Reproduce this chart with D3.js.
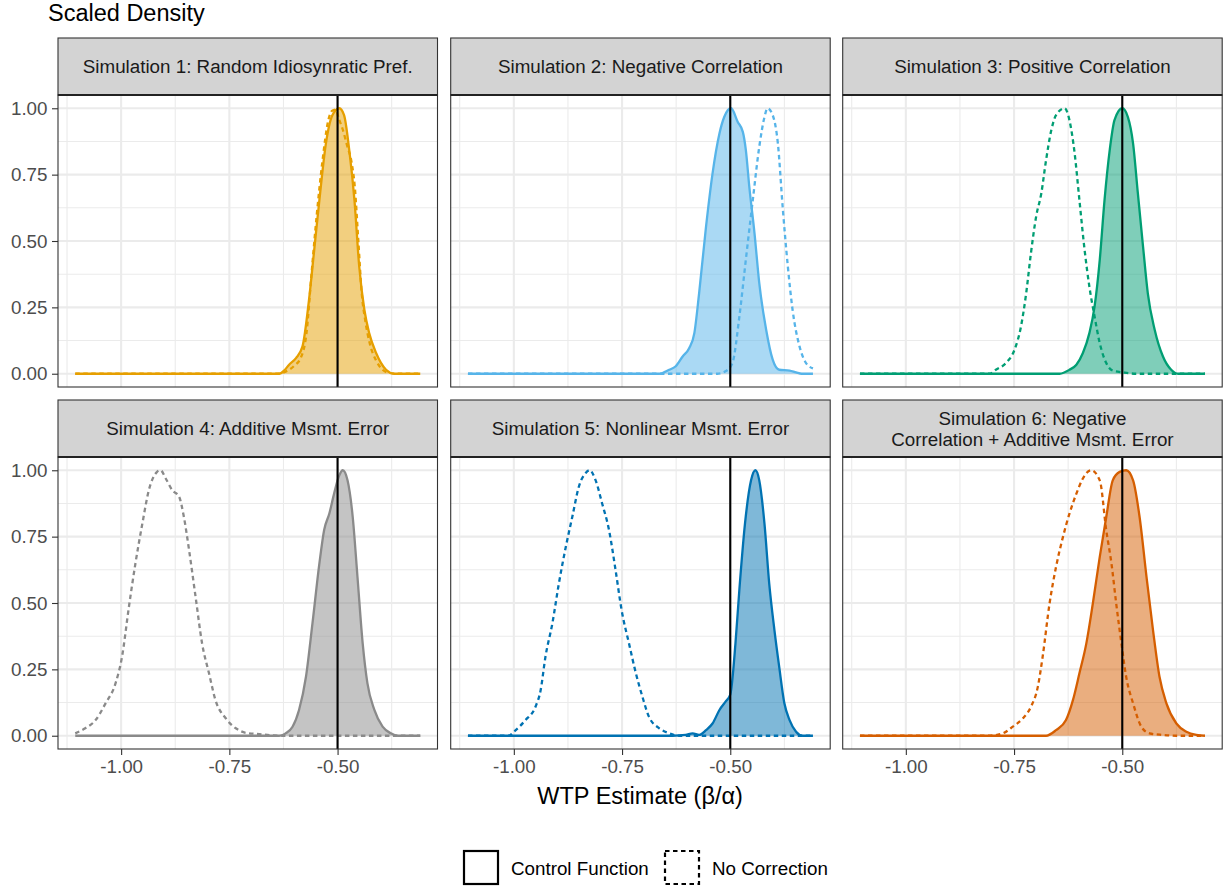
<!DOCTYPE html>
<html><head><meta charset="utf-8">
<script src="https://cdn.jsdelivr.net/npm/d3@7"></script>
<style>
body{margin:0;background:#fff}
svg{display:block}
text{font-family:"Liberation Sans",Arial,Helvetica,sans-serif}
</style>
</head><body>
<svg id="chart" width="1224" height="890"></svg>
<script>
// ---------------- DATA ----------------
const panelTitles = [
  ["Simulation 1: Random Idiosynratic Pref."],
  ["Simulation 2: Negative Correlation"],
  ["Simulation 3: Positive Correlation"],
  ["Simulation 4: Additive Msmt. Error"],
  ["Simulation 5: Nonlinear Msmt. Error"],
  ["Simulation 6: Negative", "Correlation + Additive Msmt. Error"]
];
const simColors = ["#E69F00", "#56B4E9", "#009E73", "#8a8a8a", "#0072B2", "#D55E00"];
const seriesNames = ["Control Function", "No Correction"];
const xTicks = [-1.00, -0.75, -0.50];
const xMinorTicks = [-1.125, -0.875, -0.625, -0.375];
const yTicks = [0, 0.25, 0.50, 0.75, 1.00];
const yMinorTicks = [0.125, 0.375, 0.625, 0.875];
const xDataRange = [-1.106, -0.309];
const trueWTP = -0.5;
const yAxisTitle = "Scaled Density";
const xAxisTitle = "WTP Estimate (β/α)";

// scaled density curves: [wtp, density]
const sim1Control = [[-1.106,0],[-0.635,0],[-0.623,0.013],[-0.612,0.034],[-0.596,0.059],[-0.581,0.103],[-0.566,0.278],[-0.554,0.466],[-0.542,0.654],[-0.527,0.867],[-0.512,0.974],[-0.496,1.0],[-0.485,0.974],[-0.473,0.842],[-0.461,0.654],[-0.45,0.404],[-0.438,0.24],[-0.427,0.153],[-0.411,0.078],[-0.388,0.015],[-0.369,0],[-0.309,0]];
const sim1NoCorr = [[-1.106,0],[-0.64,0],[-0.62,0.008],[-0.60,0.03],[-0.585,0.06],[-0.572,0.15],[-0.56,0.38],[-0.548,0.6],[-0.535,0.8],[-0.522,0.95],[-0.513,0.99],[-0.505,0.995],[-0.497,0.96],[-0.488,0.92],[-0.478,0.86],[-0.468,0.8],[-0.46,0.7],[-0.452,0.5],[-0.444,0.3],[-0.436,0.2],[-0.425,0.11],[-0.411,0.05],[-0.396,0.015],[-0.38,0.003],[-0.365,0],[-0.309,0]];
const sim2Control = [[-1.106,0],[-0.664,0],[-0.641,0.015],[-0.626,0.028],[-0.61,0.065],[-0.595,0.096],[-0.583,0.153],[-0.572,0.303],[-0.556,0.554],[-0.541,0.754],[-0.525,0.905],[-0.514,0.967],[-0.498,1.0],[-0.483,0.949],[-0.471,0.911],[-0.464,0.842],[-0.456,0.704],[-0.444,0.529],[-0.433,0.341],[-0.417,0.165],[-0.402,0.053],[-0.387,0.015],[-0.363,0.012],[-0.348,0.005],[-0.335,0],[-0.309,0]];
const sim2NoCorr = [[-1.106,0],[-0.53,0],[-0.51,0.01],[-0.495,0.04],[-0.479,0.215],[-0.464,0.43],[-0.448,0.654],[-0.433,0.855],[-0.421,0.967],[-0.414,1.0],[-0.402,0.974],[-0.39,0.867],[-0.379,0.629],[-0.367,0.404],[-0.356,0.24],[-0.34,0.103],[-0.325,0.04],[-0.309,0.02]];
const sim3Control = [[-1.106,0],[-0.645,0],[-0.622,0.015],[-0.606,0.034],[-0.591,0.078],[-0.576,0.153],[-0.564,0.253],[-0.552,0.429],[-0.541,0.654],[-0.529,0.842],[-0.518,0.955],[-0.5,1.0],[-0.487,0.967],[-0.475,0.867],[-0.464,0.68],[-0.452,0.479],[-0.441,0.303],[-0.425,0.165],[-0.406,0.065],[-0.387,0.015],[-0.371,0],[-0.309,0]];
const sim3NoCorr = [[-1.106,0],[-0.807,0],[-0.792,0.015],[-0.769,0.04],[-0.749,0.09],[-0.734,0.178],[-0.722,0.303],[-0.711,0.454],[-0.699,0.592],[-0.687,0.68],[-0.676,0.805],[-0.664,0.917],[-0.653,0.974],[-0.633,1.0],[-0.622,0.955],[-0.61,0.83],[-0.599,0.654],[-0.587,0.466],[-0.576,0.328],[-0.564,0.216],[-0.552,0.115],[-0.537,0.04],[-0.522,0.012],[-0.498,0.005],[-0.468,0],[-0.309,0]];
const sim4Control = [[-1.106,0],[-0.635,0],[-0.62,0.009],[-0.604,0.034],[-0.589,0.097],[-0.573,0.222],[-0.558,0.423],[-0.542,0.649],[-0.531,0.775],[-0.519,0.837],[-0.508,0.912],[-0.496,0.981],[-0.488,1.0],[-0.477,0.962],[-0.465,0.824],[-0.454,0.598],[-0.442,0.348],[-0.431,0.197],[-0.415,0.097],[-0.396,0.034],[-0.377,0.009],[-0.361,0],[-0.309,0]];
const sim4NoCorr = [[-1.106,0.009],[-1.083,0.028],[-1.059,0.059],[-1.036,0.122],[-1.013,0.197],[-0.998,0.297],[-0.982,0.486],[-0.967,0.649],[-0.951,0.799],[-0.936,0.925],[-0.917,0.994],[-0.909,1.0],[-0.897,0.969],[-0.882,0.925],[-0.866,0.9],[-0.855,0.824],[-0.843,0.699],[-0.828,0.523],[-0.813,0.348],[-0.797,0.235],[-0.782,0.134],[-0.758,0.065],[-0.735,0.028],[-0.712,0.011],[-0.681,0.006],[-0.65,0.001],[-0.627,0],[-0.309,0]];
const sim5Control = [[-1.106,0],[-0.633,0],[-0.603,0.003],[-0.587,0.009],[-0.572,0.003],[-0.556,0.021],[-0.541,0.046],[-0.525,0.097],[-0.51,0.13],[-0.5,0.155],[-0.488,0.348],[-0.479,0.55],[-0.466,0.799],[-0.452,0.962],[-0.442,1.0],[-0.433,0.962],[-0.421,0.799],[-0.41,0.573],[-0.398,0.398],[-0.387,0.26],[-0.375,0.122],[-0.363,0.059],[-0.348,0.015],[-0.333,0],[-0.309,0]];
const sim5NoCorr = [[-1.106,0],[-1.012,0],[-1.0,0.015],[-0.973,0.059],[-0.95,0.109],[-0.938,0.172],[-0.927,0.297],[-0.911,0.423],[-0.896,0.573],[-0.88,0.711],[-0.865,0.824],[-0.85,0.937],[-0.834,0.99],[-0.825,1.0],[-0.811,0.962],[-0.796,0.875],[-0.78,0.774],[-0.765,0.624],[-0.751,0.473],[-0.734,0.348],[-0.718,0.235],[-0.703,0.147],[-0.688,0.072],[-0.664,0.028],[-0.641,0.009],[-0.618,0],[-0.309,0]];
const sim6Control = [[-1.106,0],[-0.676,0],[-0.653,0.021],[-0.63,0.059],[-0.614,0.134],[-0.599,0.235],[-0.583,0.348],[-0.568,0.498],[-0.552,0.674],[-0.537,0.824],[-0.522,0.962],[-0.506,0.994],[-0.491,1.0],[-0.475,0.962],[-0.46,0.824],[-0.444,0.598],[-0.429,0.398],[-0.414,0.222],[-0.398,0.122],[-0.375,0.046],[-0.352,0.015],[-0.329,0.003],[-0.309,0]];
const sim6NoCorr = [[-1.106,0],[-0.81,0],[-0.776,0.009],[-0.753,0.034],[-0.73,0.065],[-0.711,0.109],[-0.695,0.185],[-0.684,0.297],[-0.668,0.498],[-0.653,0.636],[-0.637,0.749],[-0.622,0.837],[-0.606,0.912],[-0.591,0.969],[-0.572,1.0],[-0.552,0.962],[-0.537,0.774],[-0.525,0.649],[-0.514,0.498],[-0.502,0.348],[-0.491,0.222],[-0.475,0.122],[-0.456,0.034],[-0.437,0.009],[-0.406,0.003],[-0.375,0],[-0.309,0]];

const controlSeries = [sim1Control, sim2Control, sim3Control, sim4Control, sim5Control, sim6Control];
const noCorrSeries = [sim1NoCorr, sim2NoCorr, sim3NoCorr, sim4NoCorr, sim5NoCorr, sim6NoCorr];

// ---------------- LAYOUT ----------------
const svg = d3.select("#chart");
const colLeft = [58, 450.7, 842.7];
const panelW = 379.5;
const stripTop = [38, 400];
const stripH = 57;
const plotH = 292;
const tickFont = 18.8, titleFont = 23.5;
const dash = "4.5,3.5";

const span = xDataRange[1] - xDataRange[0];
const xDomain = [xDataRange[0] - 0.05 * span, xDataRange[1] + 0.05 * span];
const yDomain = [-0.05, 1.05];

svg.append("text").attr("x", 48).attr("y", 21).attr("font-size", titleFont)
  .attr("fill", "#000").text(yAxisTitle);

panelTitles.forEach((title, i) => {
  const row = Math.floor(i / 3), col = i % 3;
  const left = colLeft[col];
  const sTop = stripTop[row];
  const pTop = sTop + stripH, pBot = pTop + plotH;
  const x = d3.scaleLinear().domain(xDomain).range([left, left + panelW]);
  const y = d3.scaleLinear().domain(yDomain).range([pBot, pTop]);
  const g = svg.append("g");

  g.append("rect").attr("x", left).attr("y", pTop).attr("width", panelW).attr("height", plotH).attr("fill", "#fff");
  g.selectAll(".xminor").data(xMinorTicks).join("line")
    .attr("x1", d => x(d)).attr("x2", d => x(d)).attr("y1", pTop).attr("y2", pBot)
    .attr("stroke", "#ebebeb").attr("stroke-width", 1.1);
  g.selectAll(".yminor").data(yMinorTicks).join("line")
    .attr("y1", d => y(d)).attr("y2", d => y(d)).attr("x1", left).attr("x2", left + panelW)
    .attr("stroke", "#ebebeb").attr("stroke-width", 1.1);
  g.selectAll(".xmajor").data(xTicks).join("line")
    .attr("x1", d => x(d)).attr("x2", d => x(d)).attr("y1", pTop).attr("y2", pBot)
    .attr("stroke", "#ebebeb").attr("stroke-width", 2.1);
  g.selectAll(".ymajor").data(yTicks).join("line")
    .attr("y1", d => y(d)).attr("y2", d => y(d)).attr("x1", left).attr("x2", left + panelW)
    .attr("stroke", "#ebebeb").attr("stroke-width", 2.1);

  const color = simColors[i];
  const area = d3.area().x(d => x(d[0])).y0(y(0)).y1(d => y(d[1])).curve(d3.curveMonotoneX);
  const line = d3.line().x(d => x(d[0])).y(d => y(d[1])).curve(d3.curveMonotoneX);

  g.append("path").datum(controlSeries[i]).attr("d", area)
    .attr("fill", color).attr("fill-opacity", 0.5);
  g.append("path").datum(controlSeries[i]).attr("d", line)
    .attr("fill", "none").attr("stroke", color).attr("stroke-width", 2.3).attr("stroke-linejoin", "round");
  g.append("path").datum(noCorrSeries[i]).attr("d", line)
    .attr("fill", "none").attr("stroke", color).attr("stroke-width", 2.3)
    .attr("stroke-dasharray", dash);

  g.append("line").attr("x1", x(trueWTP)).attr("x2", x(trueWTP)).attr("y1", pTop).attr("y2", pBot)
    .attr("stroke", "#000").attr("stroke-width", 2.1);

  g.append("rect").attr("x", left).attr("y", pTop).attr("width", panelW).attr("height", plotH)
    .attr("fill", "none").attr("stroke", "#333").attr("stroke-width", 1.1);

  g.append("rect").attr("x", left).attr("y", sTop).attr("width", panelW).attr("height", stripH)
    .attr("fill", "#d3d3d3").attr("stroke", "#333").attr("stroke-width", 1.1);
  g.append("line").attr("x1", left).attr("x2", left + panelW).attr("y1", pTop).attr("y2", pTop)
    .attr("stroke", "#222").attr("stroke-width", 2);
  const lh = 21;
  const cy = sTop + stripH / 2;
  title.forEach((t, k) => {
    g.append("text").attr("x", left + panelW / 2)
      .attr("y", cy + (k - (title.length - 1) / 2) * lh)
      .attr("dy", "0.35em").attr("text-anchor", "middle")
      .attr("font-size", tickFont).attr("fill", "#1a1a1a").text(t);
  });

  if (col === 0) {
    const ya = d3.axisLeft(y).tickValues(yTicks).tickFormat(d => d.toFixed(2)).tickSize(6).tickPadding(4.5);
    const ag = g.append("g").attr("transform", `translate(${left},0)`).call(ya);
    ag.select(".domain").remove();
    ag.selectAll("line").attr("stroke", "#333").attr("stroke-width", 1.1);
    ag.selectAll("text").attr("font-size", tickFont).attr("fill", "#4d4d4d")
      .style("font-family", '"Liberation Sans",Arial,sans-serif');
  }
  if (row === 1) {
    const xa = d3.axisBottom(x).tickValues(xTicks).tickFormat(d => d.toFixed(2)).tickSize(6).tickPadding(4.5);
    const ag = g.append("g").attr("transform", `translate(0,${pBot})`).call(xa);
    ag.select(".domain").remove();
    ag.selectAll("line").attr("stroke", "#333").attr("stroke-width", 1.1);
    ag.selectAll("text").attr("font-size", tickFont).attr("fill", "#4d4d4d")
      .style("font-family", '"Liberation Sans",Arial,sans-serif');
  }
});

svg.append("text").attr("x", colLeft[0] + (colLeft[2] + panelW - colLeft[0]) / 2).attr("y", 804)
  .attr("text-anchor", "middle").attr("font-size", titleFont).attr("fill", "#000").text(xAxisTitle);

const legend = svg.append("g");
const legendItems = [
  {name: seriesNames[0], x: 463, dashed: false},
  {name: seriesNames[1], x: 664, dashed: true}
];
legendItems.forEach(it => {
  legend.append("rect").attr("x", it.x + 1).attr("y", 851).attr("width", 34).attr("height", 33)
    .attr("fill", "#fff").attr("stroke", "#000").attr("stroke-width", 2.2)
    .attr("stroke-dasharray", it.dashed ? dash : null);
  legend.append("text").attr("x", it.x + 48).attr("y", 868).attr("dy", "0.35em")
    .attr("font-size", tickFont).attr("fill", "#000").text(it.name);
});
</script>
</body></html>
